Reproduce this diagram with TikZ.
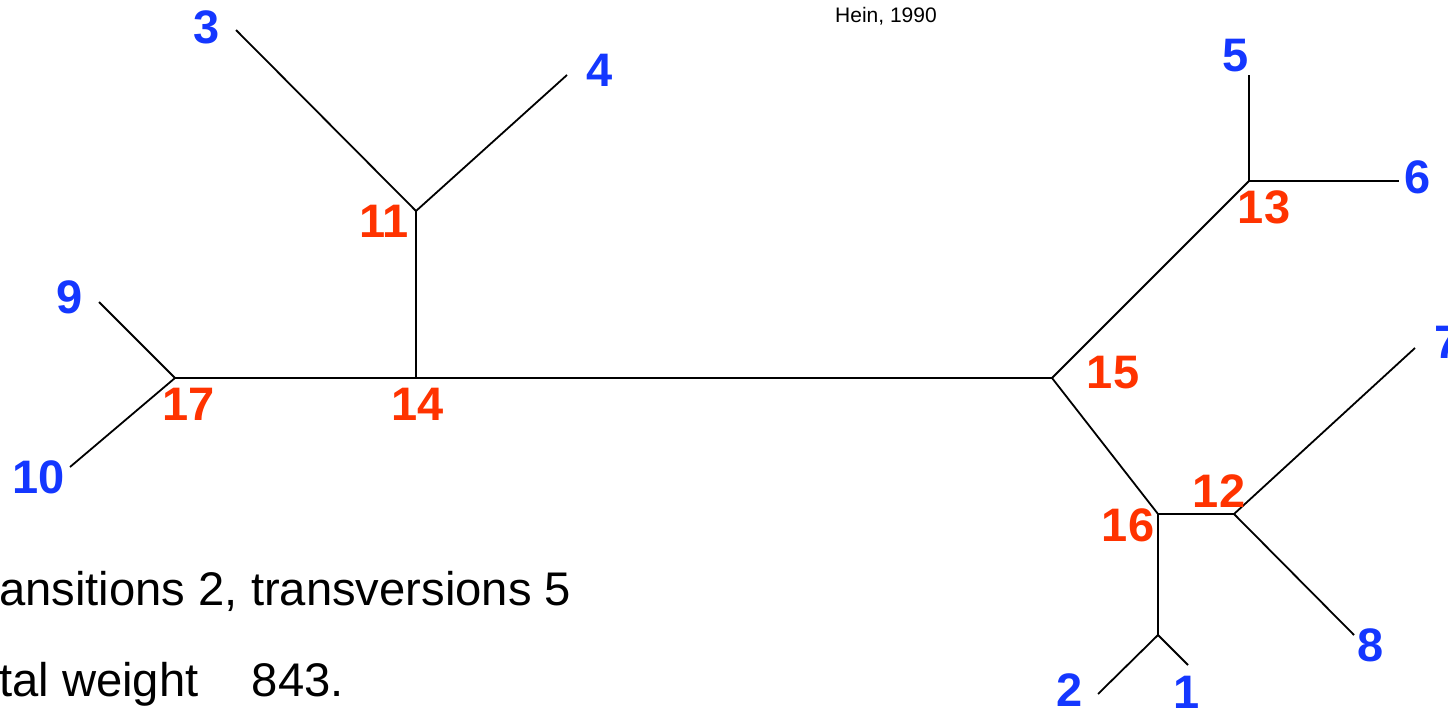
\documentclass[tikz,border=0pt]{standalone}
\usepackage{fontspec}
\setmainfont{Liberation Sans}
\definecolor{lblblue}{RGB}{20,55,255}
\definecolor{lblred}{RGB}{255,51,0}
\begin{document}
\begin{tikzpicture}[x=1pt,y=-1pt,
  edge/.style={line width=1.8pt, black},
  leaflbl/.style={text=lblblue, font=\bfseries\fontsize{47}{47}\selectfont, inner sep=0pt},
  innerlbl/.style={text=lblred, font=\bfseries\fontsize{47}{47}\selectfont, inner sep=0pt},
  note/.style={font=\fontsize{47.2}{47.2}\selectfont, inner sep=0pt, anchor=base west},
  small/.style={font=\fontsize{21}{21}\selectfont, inner sep=0pt, anchor=base}]
\useasboundingbox (0,0) rectangle (1448,712);
% tree vertices
\coordinate (n17) at (175,378);
\coordinate (e9)  at (99,302);
\coordinate (e10) at (70,467);
\coordinate (n14) at (416,378);
\coordinate (n11) at (416,211);
\coordinate (e3)  at (236,30);
\coordinate (e4)  at (567,75);
\coordinate (n15) at (1052,378);
\coordinate (n13) at (1249,181);
\coordinate (e5)  at (1249,75);
\coordinate (e6)  at (1399,181);
\coordinate (n16) at (1158,514);
\coordinate (n12) at (1234,514);
\coordinate (e7)  at (1415,348);
\coordinate (e8)  at (1354,635);
\coordinate (n18) at (1158,635);
\coordinate (e2)  at (1098,694);
\coordinate (e1)  at (1188,665);
% edges
\draw[edge] (e9) -- (n17);
\draw[edge] (e10) -- (n17);
\draw[edge] (n17) -- (n14);
\draw[edge] (n14) -- (n11);
\draw[edge] (e3) -- (n11);
\draw[edge] (e4) -- (n11);
\draw[edge] (n14) -- (n15);
\draw[edge] (n15) -- (n13);
\draw[edge] (n13) -- (e5);
\draw[edge] (n13) -- (e6);
\draw[edge] (n15) -- (n16);
\draw[edge] (n16) -- (n12);
\draw[edge] (n12) -- (e7);
\draw[edge] (n12) -- (e8);
\draw[edge] (n16) -- (n18);
\draw[edge] (n18) -- (e2);
\draw[edge] (n18) -- (e1);
% leaf labels
\node[leaflbl] (l3)  at (207,27)  {3};
\node[leaflbl] (l4)  at (600,70)  {4};
\node[leaflbl] (l5)  at (1236,56) {5};
\node[leaflbl] (l6)  at (1418,177) {6};
\node[leaflbl] (l7)  at (1448,342) {7};
\node[leaflbl] (l8)  at (1371,645) {8};
\node[leaflbl] (l1)  at (1187,692) {1};
\node[leaflbl] (l2)  at (1070,690) {2};
\node[leaflbl] (l9)  at (70,297)  {9};
\node[leaflbl] (l10) at (39,477)  {10};
% inner labels
\node[innerlbl] (l11) at (384,221) {11};
\node[innerlbl] (l17) at (189,404) {17};
\node[innerlbl] (l14) at (418,404) {14};
\node[innerlbl] (l15) at (1113,373) {15};
\node[innerlbl] (l13) at (1264,207) {13};
\node[innerlbl] (l12) at (1219,491) {12};
\node[innerlbl] (l16) at (1128,525) {16};
% texts
\node[small] (hein) at (886,23) {Hein, 1990};
\node[note] (t1) at (-1,605) {ansitions 2, transversions 5};
\node[note] (t2) at (-1,696) {tal weight\hspace{1.13em}843.};
\end{tikzpicture}
\end{document}
